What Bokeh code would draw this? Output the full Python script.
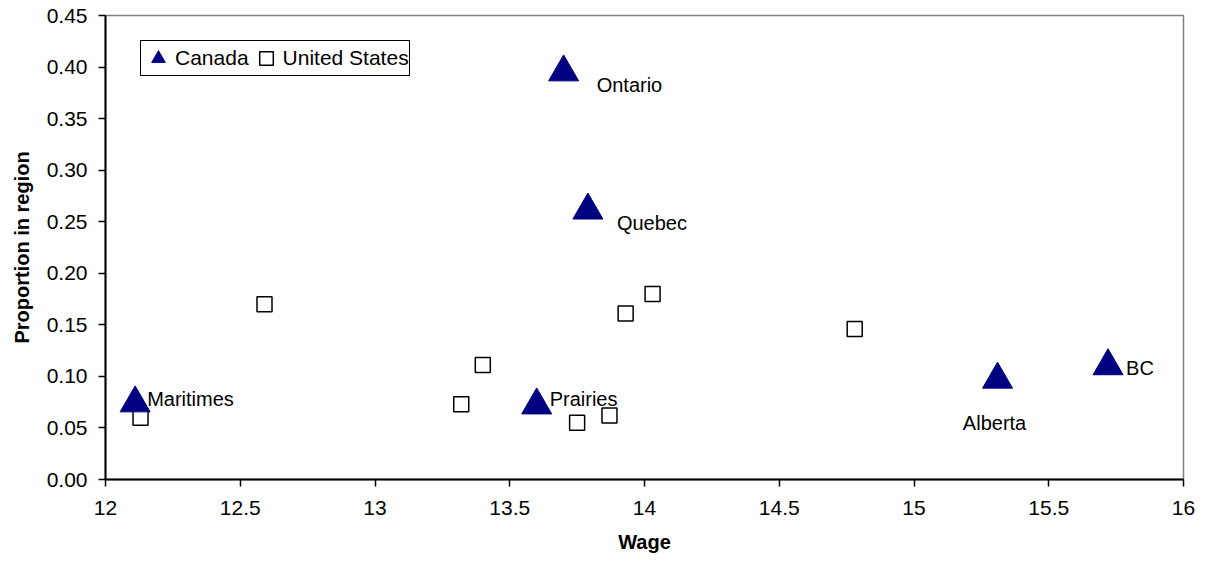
from bokeh.plotting import figure
from bokeh.models import Range1d, FixedTicker, NumeralTickFormatter, Legend, LegendItem, ColumnDataSource
from bokeh.core.properties import value
from bokeh.embed import file_html
from bokeh.resources import INLINE

# Canadian regions: average wage vs. share of employment
canada_region = ["Maritimes", "Quebec", "Ontario", "Prairies", "Alberta", "BC"]
canada_wage = [12.11, 13.79, 13.70, 13.60, 15.31, 15.72]
canada_share = [0.074, 0.261, 0.395, 0.072, 0.097, 0.110]

# US regions
us_wage = [12.13, 12.59, 13.32, 13.40, 13.75, 13.87, 13.93, 14.03, 14.78]
us_share = [0.060, 0.170, 0.073, 0.111, 0.055, 0.062, 0.161, 0.180, 0.146]

# Axis ticks
x_ticks = [12, 12.5, 13, 13.5, 14, 14.5, 15, 15.5, 16]
x_tick_labels = ["12", "12.5", "13", "13.5", "14", "14.5", "15", "15.5", "16"]
y_ticks = [0.00, 0.05, 0.10, 0.15, 0.20, 0.25, 0.30, 0.35, 0.40, 0.45]

# Label placement around each Canadian marker (screen pixels)
label_dx = [12, 29, 33, 13, -3, 18]
label_dy = [-4, 13, 13, -6, 44, 2]
label_align = ["left", "left", "left", "left", "center", "left"]

FONT = "Liberation Sans"
NAVY = "#000080"

p = figure(
    width=1209, height=571,
    x_range=Range1d(12, 16), y_range=Range1d(0, 0.45),
    output_backend="svg", toolbar_location=None,
    min_border_left=105, min_border_right=26,
    min_border_top=15, min_border_bottom=92,
)
p.background_fill_color = "white"
p.border_fill_color = "white"
p.outline_line_color = "#808080"
p.outline_line_width = 1.5
p.xgrid.visible = False
p.ygrid.visible = False

for ax in (p.xaxis[0], p.yaxis[0]):
    ax.axis_line_color = "black"
    ax.axis_line_width = 2
    ax.major_tick_line_color = "black"
    ax.major_tick_line_width = 1.5
    ax.major_tick_in = 0
    ax.major_tick_out = 7
    ax.minor_tick_line_color = None
    ax.major_label_text_font = FONT
    ax.major_label_text_font_size = "21px"
    ax.major_label_text_color = "black"
    ax.axis_label_text_font = FONT
    ax.axis_label_text_font_size = "20px"
    ax.axis_label_text_font_style = "bold"
    ax.axis_label_text_color = "black"

p.xaxis.ticker = FixedTicker(ticks=x_ticks)
p.xaxis.major_label_overrides = {t: s for t, s in zip(x_ticks, x_tick_labels)}
p.xaxis.axis_label = "Wage"
p.xaxis.major_label_standoff = 14
p.xaxis.axis_label_standoff = 13

p.yaxis.ticker = FixedTicker(ticks=y_ticks)
p.yaxis.formatter = NumeralTickFormatter(format="0.00")
p.yaxis.axis_label = "Proportion in region"
p.yaxis.major_label_standoff = 11
p.yaxis.axis_label_standoff = 11

us_src = ColumnDataSource(dict(x=us_wage, y=us_share))
ca_src = ColumnDataSource(dict(
    x=canada_wage, y=canada_share, name=canada_region,
    dx=label_dx, dy=label_dy, align=label_align,
))

r_us = p.scatter("x", "y", source=us_src, marker="square", size=15,
                 fill_color="white", line_color="black", line_width=1.5)
r_ca = p.scatter("x", "y", source=ca_src, marker="triangle", size=30,
                 fill_color=NAVY, line_color=NAVY, line_width=1)

p.text("x", "y", text="name", source=ca_src,
       x_offset="dx", y_offset="dy", text_align="align",
       text_baseline="middle", text_font=value(FONT),
       text_font_size="20px", text_color="black")

legend = Legend(
    items=[LegendItem(label="Canada", renderers=[r_ca]),
           LegendItem(label="United States", renderers=[r_us])],
    location=(35, 403), orientation="horizontal",
    glyph_width=34, glyph_height=34, label_standoff=-4, spacing=-2,
    padding=0, margin=0,
    label_text_font=FONT, label_text_font_size="21px", label_text_color="black",
    border_line_color="black", border_line_width=1.5, border_line_alpha=1,
    background_fill_color="white", background_fill_alpha=1,
)
p.add_layout(legend)

open("out.html", "w").write(file_html(p, INLINE))
